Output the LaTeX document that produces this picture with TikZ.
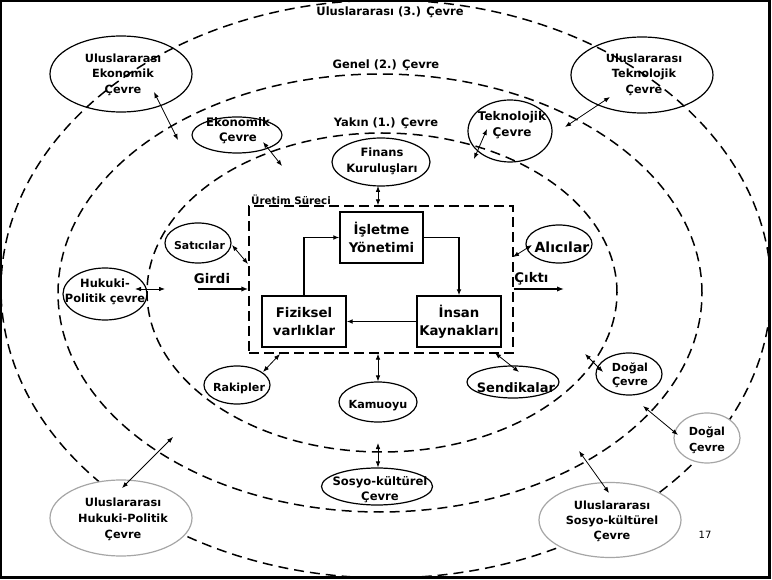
\documentclass[tikz,border=0pt]{standalone}
\usepackage{fontspec}
\setmainfont{DejaVu Sans}
\usetikzlibrary{shapes.geometric,arrows.meta}
\newcommand{\myfs}[2]{\fontsize{#1}{#2}\selectfont}
\tikzset{
  env/.style={dash pattern=on 10pt off 6pt, line width=1.5pt},
  eshape/.style={ellipse, draw, line width=1.2pt, inner sep=0pt},
  gshape/.style={ellipse, draw=black!35, fill=white, line width=1.2pt, inner sep=0pt},
  txt/.style={inner sep=0pt, align=center, font=\bfseries\myfs{11.3}{15.5}},
  bigtxt/.style={inner sep=0pt, align=center, font=\bfseries\myfs{13.3}{18}},
  box/.style={rectangle, draw, line width=1.4pt, inner sep=0pt, align=center,
    minimum width=84pt, minimum height=51pt, font=\bfseries\myfs{13.3}{18}},
  dar/.style={{Latex[length=6pt,width=4.6pt]}-{Latex[length=6pt,width=4.6pt]}, line width=0.8pt},
  flow/.style={-{Latex[length=6pt,width=4.8pt]}, line width=1.3pt},
  thickflow/.style={-{Latex[length=7pt,width=5.4pt]}, line width=2pt},
}
\begin{document}
\begin{tikzpicture}[x=1pt,y=-1pt]
\useasboundingbox (0,0) rectangle (772,580);
% environment rings
\begin{scope}
  \clip (1,1) rectangle (769,577);
  \draw[env] (386,289) ellipse [x radius=385pt, y radius=289pt];
  \draw[env] (380,293) ellipse [x radius=322pt, y radius=219pt];
  \draw[env] (382,292.5) ellipse [x radius=235pt, y radius=159.5pt];
\end{scope}
\node[txt, font=\bfseries\myfs{11.5}{14}] (l3) at (390,12) {Uluslararası (3.) Çevre};
\node[txt, font=\bfseries\myfs{11.5}{14}] (l2) at (386,65) {Genel (2.) Çevre};
\node[txt, font=\bfseries\myfs{11.5}{14}] (l1) at (386,123) {Yakın (1.) Çevre};

% production process
\node[rectangle, draw, dash pattern=on 10pt off 5pt, line width=1.4pt, inner sep=0pt,
      minimum width=264pt, minimum height=147pt] (proc) at (381,279.5) {};
\node[txt, font=\bfseries\myfs{10.3}{12}, anchor=west] (ps) at (251,199.5) {Üretim Süreci};
\node[box, minimum width=83pt] (ise) at (381.5,237.5) {İşletme\\Yönetimi};
\node[box] (fiz) at (304,321.5) {Fiziksel\\varlıklar};
\node[box] (ins) at (459,321.5) {İnsan\\Kaynakları};
\draw[flow] (fiz.north) |- (ise.west);
\draw[flow] (ise.east) -| (ins.north);
\draw[flow] (ins.west) -- (fiz.east);

% inputs / outputs
\coordinate (gin) at (198,289);
\coordinate (cout) at (564,289);
\draw[thickflow] (gin) -- (gin -| proc.west);
\draw[thickflow] (cout -| proc.east) -- (cout);
\node[bigtxt] (gir) at (212,279) {Girdi};
\node[bigtxt] (cik) at (531.5,279) {Çıktı};

% near environment
\node[eshape, minimum width=98pt, minimum height=48pt] (fin) at (381,162) {};
\node[txt, font=\bfseries\myfs{11.5}{15.5}] (fint) at (382,161.5) {Finans\\Kuruluşları};
\node[eshape, minimum width=66pt, minimum height=40pt] (sat) at (198,243) {};
\node[txt, font=\bfseries\myfs{10.9}{14}] (satt) at (199.5,245) {Satıcılar};
\node[eshape, minimum width=66pt, minimum height=38pt] (ali) at (559,244) {};
\node[bigtxt, font=\bfseries\myfs{14}{16}] (alit) at (562,247) {Alıcılar};
\node[eshape, minimum width=66pt, minimum height=38pt] (rak) at (237,385) {};
\node[txt, font=\bfseries\myfs{11.1}{14}] (rakt) at (239,388) {Rakipler};
\node[eshape, minimum width=78pt, minimum height=40pt] (kam) at (378,402) {};
\node[txt, font=\bfseries\myfs{11.2}{14}] (kamt) at (378,406) {Kamuoyu};
\node[eshape, minimum width=92pt, minimum height=32pt] (sen) at (513,382) {};
\node[bigtxt, font=\bfseries\myfs{13}{16}] (sent) at (516,388) {Sendikalar};

% general environment
\node[eshape, minimum width=90pt, minimum height=36pt] (ek) at (237,135) {};
\node[txt, font=\bfseries\myfs{11.7}{15.5}] (ekt) at (238,130.5) {Ekonomik\\Çevre};
\node[eshape, minimum width=84pt, minimum height=62pt] (tk) at (510,131) {};
\node[txt, font=\bfseries\myfs{12}{16}] (tkt) at (512,125) {Teknolojik\\Çevre};
\node[eshape, minimum width=84pt, minimum height=52pt] (hp) at (105,294) {};
\node[txt, font=\bfseries\myfs{11.4}{15}] (hpt) at (105,291.5) {Hukuki-\\Politik çevre};
\node[eshape, minimum width=66pt, minimum height=42pt] (dog) at (629,374) {};
\node[txt, font=\bfseries\myfs{11.1}{14.5}] (dogt) at (630,375) {Doğal\\Çevre};
\node[eshape, minimum width=111pt, minimum height=37pt] (sk) at (377,486.5) {};
\node[txt, font=\bfseries\myfs{11.6}{15}] (skt) at (380,490) {Sosyo-kültürel\\Çevre};

% international environment
\node[eshape, minimum width=142pt, minimum height=76pt] (ue) at (121,74) {};
\node[txt] (uet) at (123,74.5) {Uluslararası\\Ekonomik\\Çevre};
\node[eshape, minimum width=142pt, minimum height=76pt] (ut) at (642,75) {};
\node[txt] (utt) at (644,74.5) {Uluslararası\\Teknolojik\\Çevre};
\node[gshape, minimum width=142pt, minimum height=76pt] (uhp) at (121,518) {};
\node[txt, font=\bfseries\myfs{11.3}{16}] (uhpt) at (123,519) {Uluslararası\\Hukuki-Politik\\Çevre};
\node[gshape, minimum width=142pt, minimum height=75pt] (us) at (610,520) {};
\node[txt, font=\bfseries\myfs{11.3}{15}] (ust) at (612,521.5) {Uluslararası\\Sosyo-kültürel\\Çevre};
\node[gshape, minimum width=66pt, minimum height=50pt] (dg) at (707,438) {};
\node[txt, font=\bfseries\myfs{11.1}{16}] (dgt) at (707,440) {Doğal\\Çevre};

% connectors
\coordinate (a1) at (154,92);  \coordinate (a2) at (178,140);
\draw[dar] (a1) -- (a2);
\coordinate (b1) at (263,142); \coordinate (b2) at (282,166);
\draw[dar] (b1) -- (b2);
\coordinate (c1) at (487,129); \coordinate (c2) at (474,159);
\draw[dar] (c1) -- (c2);
\coordinate (d1) at (610,97);  \coordinate (d2) at (565,127);
\draw[dar] (d1) -- (d2);
\coordinate (f1) at (378,186);
\draw[dar] (f1) -- (f1 |- proc.north);
\coordinate (s1) at (232,245); \coordinate (s2) at (248,264);
\draw[dar] (s1) -- (s2);
\coordinate (h1) at (135,289); \coordinate (h2) at (165,289);
\draw[dar] (h1) -- (h2);
\coordinate (al1) at (513,257); \coordinate (al2) at (532,245);
\draw[dar] (al1) -- (al2);
\coordinate (r1) at (263,372); \coordinate (r2) at (280,354);
\draw[dar] (r1) -- (r2);
\draw[dar] (kam.north |- proc.south) -- (kam.north);
\coordinate (se1) at (495,353); \coordinate (se2) at (519,372);
\draw[dar] (se1) -- (se2);
\coordinate (do1) at (585,354); \coordinate (do2) at (603,372);
\draw[dar] (do1) -- (do2);
\coordinate (k1) at (378,443);
\draw[dar] (k1) -- (k1 |- sk.north);
\coordinate (u1) at (122,488); \coordinate (u2) at (173,437);
\draw[dar] (u1) -- (u2);
\coordinate (v1) at (579,451); \coordinate (v2) at (609,493);
\draw[dar] (v1) -- (v2);
\coordinate (w1) at (643,406); \coordinate (w2) at (678,435);
\draw[dar] (w1) -- (w2);

\node[inner sep=0pt, font=\myfs{10}{12}] (pg) at (705,535) {17};

% frame
\draw[line width=2pt] (1,577) -- (1,1) -- (769,1);
\draw[line width=3pt] (769,0) -- (769,577) -- (0,577);
\end{tikzpicture}
\end{document}
